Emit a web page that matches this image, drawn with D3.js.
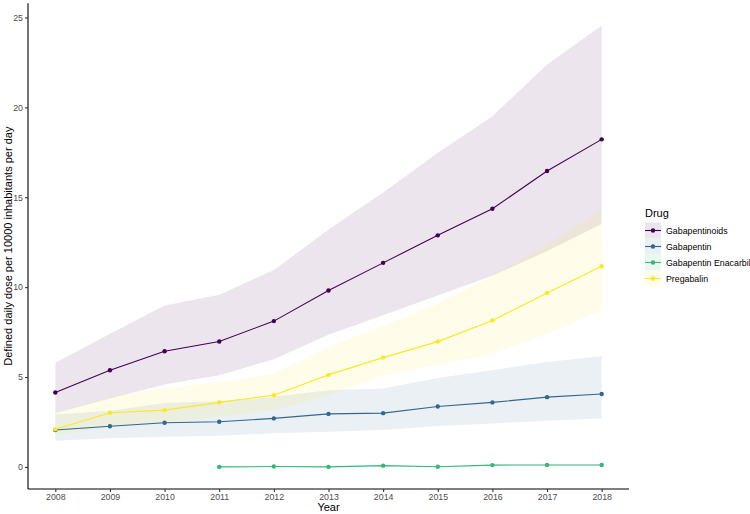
<!DOCTYPE html>
<html><head><meta charset="utf-8">
<script src="https://cdn.jsdelivr.net/npm/d3@7/dist/d3.min.js"></script>
<style>body{margin:0;background:#fff}svg{display:block}text{font-family:"Liberation Sans",Arial,sans-serif}</style>
</head><body><svg id="c" width="750" height="514"></svg>
<script>
const years = [2008,2009,2010,2011,2012,2013,2014,2015,2016,2017,2018];
const enacarbilYears = [2011,2012,2013,2014,2015,2016,2017,2018];
const drugs = ["Gabapentinoids","Gabapentin","Gabapentin Enacarbil","Pregabalin"];
const colors = ["#440154","#31688E","#35B779","#FDE725"];

const gabapentinoidsMean  = [4.14,5.38,6.43,6.98,8.11,9.81,11.35,12.88,14.36,16.46,18.22];
const gabapentinoidsUpper = [5.80,7.41,8.98,9.57,10.96,13.2,15.26,17.48,19.51,22.38,24.56];
const gabapentinoidsLower = [2.98,3.81,4.58,5.10,5.99,7.35,8.43,9.53,10.64,12.0,13.51];

const gabapentinMean  = [2.05,2.26,2.46,2.51,2.70,2.95,2.99,3.36,3.59,3.88,4.06];
const gabapentinUpper = [2.92,3.12,3.56,3.65,3.90,4.27,4.36,4.95,5.38,5.84,6.15];
const gabapentinLower = [1.46,1.59,1.68,1.74,1.87,1.96,2.05,2.27,2.42,2.57,2.70];

const enacarbilMean  = [0.00,0.02,0.00,0.07,0.01,0.10,0.11,0.11];
const enacarbilUpper = [0.02,0.04,0.02,0.10,0.03,0.13,0.14,0.14];
const enacarbilLower = [0.00,0.00,0.00,0.04,0.00,0.07,0.08,0.08];

const pregabalinMean  = [2.09,3.01,3.16,3.59,3.99,5.12,6.08,6.97,8.15,9.68,11.16];
const pregabalinUpper = [3.00,3.90,4.37,4.73,5.19,6.67,7.87,9.08,10.64,12.4,14.3];
const pregabalinLower = [1.80,2.20,2.50,2.79,3.16,3.99,5.10,5.65,6.30,7.41,8.70];

const yTicks = [0,5,10,15,20,25];

function mk(name, ys, m, lo, hi){ return {name, pts: ys.map((y,i)=>({year:y, v:m[i], lo:lo[i], hi:hi[i]}))}; }
const series = [
  mk(drugs[0], years, gabapentinoidsMean, gabapentinoidsLower, gabapentinoidsUpper),
  mk(drugs[1], years, gabapentinMean, gabapentinLower, gabapentinUpper),
  mk(drugs[2], enacarbilYears, enacarbilMean, enacarbilLower, enacarbilUpper),
  mk(drugs[3], years, pregabalinMean, pregabalinLower, pregabalinUpper)
];
const color = d3.scaleOrdinal(drugs, colors);

const svg = d3.select("#c");
const L = 28, R = 629, T = 3.3, B = 489;
const x = d3.scaleLinear().domain([2007.5, 2018.5]).range([L, R]);
const allv = series.flatMap(s => s.pts.flatMap(p => [p.lo, p.hi, p.v]));
const ext = d3.extent(allv), pad = 0.05*(ext[1]-ext[0]);
const y = d3.scaleLinear().domain([ext[0]-pad, ext[1]+pad]).range([B, T]);

const g = svg.append("g");
const area = d3.area().x(d=>x(d.year)).y0(d=>y(d.lo)).y1(d=>y(d.hi));
const line = d3.line().x(d=>x(d.year)).y(d=>y(d.v));

g.selectAll("path.band").data(series).join("path").attr("class","band")
  .attr("d", s=>area(s.pts)).attr("fill", s=>color(s.name)).attr("fill-opacity",0.1);
g.selectAll("path.ln").data(series).join("path").attr("class","ln")
  .attr("d", s=>line(s.pts)).attr("fill","none").attr("stroke", s=>color(s.name)).attr("stroke-width",1.1);
series.forEach(s=>{
  g.selectAll(null).data(s.pts).join("circle")
    .attr("cx", d=>x(d.year)).attr("cy", d=>y(d.v)).attr("r",2.2).attr("fill", color(s.name));
});

// axes
const xa = svg.append("g").attr("transform",`translate(0,${B})`)
  .call(d3.axisBottom(x).tickValues(years).tickFormat(d3.format("d")).tickSize(3).tickPadding(2));
const ya = svg.append("g").attr("transform",`translate(${L},0)`)
  .call(d3.axisLeft(y).tickValues(yTicks).tickSize(3).tickPadding(2));
[xa,ya].forEach(a=>{
  a.select(".domain").attr("stroke","#000").attr("stroke-width",1.1);
  a.selectAll(".tick line").attr("stroke","#333").attr("stroke-width",1.1);
  a.selectAll(".tick text").attr("fill","#4D4D4D").style("font-size","8.8px").style("font-family","'Liberation Sans',Arial,sans-serif");
});
xa.select(".domain").attr("d",`M${L},0H${R}`);
ya.select(".domain").attr("d",`M0,${B}V${T}`);

svg.append("text").attr("x",(L+R)/2).attr("y",511).attr("text-anchor","middle")
  .style("font-size","11px").text("Year");
svg.append("text").attr("transform",`translate(8,${(T+B)/2}) rotate(-90)`).attr("text-anchor","middle")
  .attr("dominant-baseline","central").style("font-size","11px").text("Defined daily dose per 10000 inhabitants per day");

// legend
const lg = svg.append("g");
lg.append("text").attr("x",645).attr("y",213).attr("dominant-baseline","central").style("font-size","11px").text("Drug");
const ent = lg.selectAll("g.e").data(drugs).join("g").attr("class","e")
  .attr("transform",(d,i)=>`translate(645,${222.5+i*16})`);
ent.append("rect").attr("width",16).attr("height",16).attr("fill","#fff");
ent.append("rect").attr("width",16).attr("height",16).attr("fill",d=>color(d)).attr("fill-opacity",0.1);
ent.append("line").attr("x1",0).attr("x2",16).attr("y1",8).attr("y2",8).attr("stroke",d=>color(d)).attr("stroke-width",1.1);
ent.append("circle").attr("cx",8).attr("cy",8).attr("r",2.2).attr("fill",d=>color(d));
ent.append("text").attr("x",21).attr("y",8).attr("dominant-baseline","central").style("font-size","8.8px").text(d=>d);
</script></body></html>
